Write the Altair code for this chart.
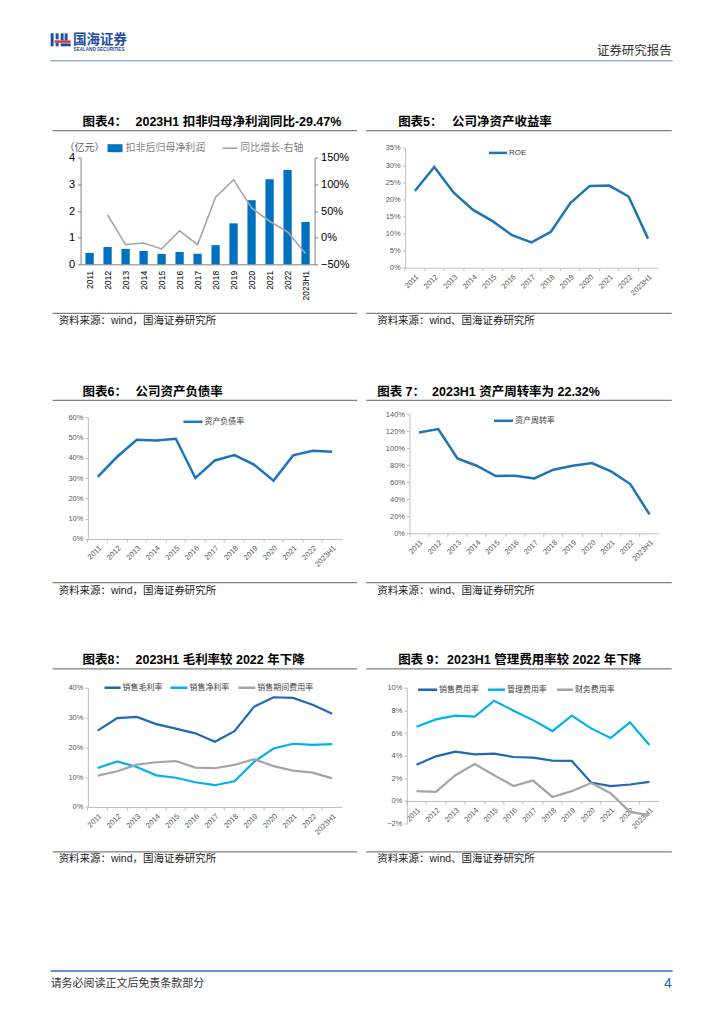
import altair as alt
import pandas as pd

years = ["2011", "2012", "2013", "2014", "2015", "2016", "2017",
         "2018", "2019", "2020", "2021", "2022", "2023H1"]

# 图表4
profit = [0.43, 0.65, 0.58, 0.50, 0.39, 0.46, 0.40, 0.72, 1.54, 2.41, 3.20, 3.54, 1.59]
yoy = [None, 0.43, -0.13, -0.10, -0.21, 0.13, -0.13, 0.76, 1.09, 0.56, 0.31, 0.11, -0.2947]
# 图表5
roe = [0.224, 0.294, 0.219, 0.169, 0.136, 0.095, 0.074, 0.105, 0.189, 0.239, 0.240, 0.208, 0.085]
# 图表6
debt = [0.307, 0.406, 0.490, 0.487, 0.495, 0.301, 0.388, 0.414, 0.367, 0.288, 0.413, 0.436, 0.431]
# 图表7
turnover = [1.184, 1.224, 0.879, 0.794, 0.673, 0.676, 0.645, 0.747, 0.794, 0.825, 0.727, 0.579, 0.2232]
# 图表8
gross = [0.256, 0.298, 0.302, 0.278, 0.263, 0.247, 0.219, 0.254, 0.336, 0.368, 0.366, 0.343, 0.313]
net = [0.131, 0.153, 0.134, 0.106, 0.098, 0.083, 0.073, 0.086, 0.151, 0.196, 0.212, 0.208, 0.211]
period = [0.105, 0.120, 0.142, 0.150, 0.154, 0.132, 0.130, 0.141, 0.160, 0.137, 0.122, 0.115, 0.096]
# 图表9
sales_exp = [0.0320, 0.0394, 0.0435, 0.0412, 0.0418, 0.0388, 0.0382, 0.0356, 0.0353, 0.0162, 0.0130, 0.0145, 0.0168]
admin_exp = [0.0656, 0.0720, 0.0753, 0.0744, 0.0885, 0.0797, 0.0714, 0.0617, 0.0753, 0.0641, 0.0556, 0.0694, 0.0494]
fin_exp = [0.0086, 0.0080, 0.0227, 0.0326, 0.0227, 0.0132, 0.0180, 0.0035, 0.0086, 0.0159, 0.0068, -0.0097, -0.0126]

FONT = "Liberation Sans, Noto Sans CJK SC"
FONT_CN = "Noto Sans CJK SC"
BLUE = "#1C75BC"
DBLUE = "#1F6AB5"
CYAN = "#00B0F0"
GRAY = "#A5A5A5"
AX = "#BFBFBF"

W, H = 227, 100
COLS = [87.3, 409.3]
ROWS = [163.3, 431.3, 699.3]
ONE = pd.DataFrame({"k": [0]})


def text(o, x, y, s, size=10, weight="normal", color="#000000", align="left",
         font=FONT, baseline="middle"):
    return alt.Chart(ONE).mark_text(
        text=s, fontSize=size, fontWeight=weight, color=color, align=align,
        baseline=baseline, font=font
    ).encode(x=alt.value(x - o[0]), y=alt.value(y - o[1]))


def hline(o, x1, x2, y, color="#7F7F7F", width=1.2):
    return alt.Chart(ONE).mark_rule(color=color, strokeWidth=width).encode(
        x=alt.value(x1 - o[0]), x2=alt.value(x2 - o[0]), y=alt.value(y - o[1]))


def box(o, x1, y1, x2, y2, color):
    return alt.Chart(ONE).mark_rect(color=color).encode(
        x=alt.value(x1 - o[0]), x2=alt.value(x2 - o[0]),
        y=alt.value(y1 - o[1]), y2=alt.value(y2 - o[1]))


def frame(o, col, ty, ly, sly, sy, tag, tag_x, main, main_x):
    lx1, lx2 = (52, 357) if col == 0 else (366, 672)
    sx = 58 if col == 0 else 377
    sep = "，" if col == 0 else "、"
    return [
        text(o, tag_x, ty, tag, 12.5, "bold"),
        text(o, main_x, ty, main, 12.5, "bold"),
        hline(o, lx1, lx2, ly),
        hline(o, lx1, lx2, sly),
        text(o, sx, sy, "资料来源：wind" + sep + "国海证券研究所", 10.5, color="#222222"),
    ]


def legend_line(o, x1, x2, y, color, label, width=2.5, size=8, tcolor="#404040"):
    return [hline(o, x1, x2, y, color, width), text(o, x2 + 2, y, label, size, color=tcolor)]


def x_band(rng, off):
    return alt.X("year:N", sort=years,
                 scale=alt.Scale(type="band", domain=years, range=rng,
                                 paddingInner=0, paddingOuter=0),
                 axis=alt.Axis(title=None, labelAngle=-45, labelFontSize=7.5,
                               labelColor="#595959", labelFont=FONT,
                               domainColor=AX, tickColor=AX, tickSize=3,
                               bandPosition=0, offset=off, labelPadding=2))


def y_pct(field, dom, rng, vals, off):
    return alt.Y(field + ":Q",
                 scale=alt.Scale(domain=dom, range=rng, nice=False, zero=False),
                 axis=alt.Axis(title=None, format=".0%", values=vals,
                               labelFontSize=7.5, labelColor="#595959",
                               labelFont=FONT, domainColor=AX, tickColor=AX,
                               tickSize=3, grid=False, offset=off, labelPadding=2))


def line(df, field, color, xenc, yenc, width=2.5):
    return alt.Chart(df).mark_line(color=color, strokeWidth=width).encode(
        x=xenc, y=yenc)


# ---------------- 图表4 ----------------
o4 = (COLS[0], ROWS[0])
df4 = pd.DataFrame({"year": years, "profit": profit, "yoy": yoy})
x4 = alt.X("year:N", sort=years,
           scale=alt.Scale(type="band", domain=years, range=[-7.3, W],
                           paddingInner=0.54, paddingOuter=0.27),
           axis=alt.Axis(title=None, labelAngle=-90, labelFontSize=8.5,
                         labelColor="#000000", labelFont=FONT,
                         domainColor="#808080", ticks=False, offset=0,
                         labelPadding=6))
bars4 = alt.Chart(df4).mark_bar(color="#0070C0").encode(
    x=x4,
    y=alt.Y("profit:Q",
            scale=alt.Scale(domain=[0, 4], range=[100, -6.6], nice=False),
            axis=alt.Axis(title=None, values=[0, 1, 2, 3, 4], labelFontSize=11,
                          labelColor="#000000", labelFont=FONT,
                          domainColor="#808080", tickColor="#808080",
                          tickSize=3, grid=False, offset=7.3, labelPadding=3)))
line4 = alt.Chart(df4.dropna()).mark_line(color=GRAY, strokeWidth=1.6).encode(
    x=x4,
    y=alt.Y("yoy:Q",
            scale=alt.Scale(domain=[-0.5, 1.5], range=[100, -6.6], nice=False, zero=False),
            axis=alt.Axis(title=None, orient="right", format=".0%",
                          values=[-0.5, 0, 0.5, 1, 1.5], labelFontSize=11,
                          labelColor="#000000", labelFont=FONT,
                          domainColor="#808080", tickColor="#808080",
                          tickSize=3, grid=False, labelPadding=3)))
deco4 = frame(o4, 0, 120.7, 129.5, 312.5, 320.5, "图表4：", 82,
              "2023H1 扣非归母净利润同比-29.47%", 135)
deco4 += [
    text(o4, 64, 147, "（亿元）", 10, color="#595959"),
    box(o4, 107, 143, 122, 151, "#0070C0"),
    text(o4, 125, 147, "扣非后归母净利润", 10, color="#7F7F7F"),
    hline(o4, 222, 237, 147, GRAY, 1.6),
    text(o4, 240, 147, "同比增长-右轴", 10, color="#7F7F7F"),
    # header
    hline(o4, 8, 716, 8, "#FFFFFF", 0.5),
    box(o4, 50, 32, 53, 45, "#1D4EA0"),
    box(o4, 55, 32, 58, 38, "#1D4EA0"),
    box(o4, 55, 41.5, 58, 45, "#1D4EA0"),
    box(o4, 60, 32, 63, 39, "#1D4EA0"),
    box(o4, 64, 32, 67, 39, "#1D4EA0"),
    box(o4, 54, 39, 70, 41.5, "#E03030"),
    box(o4, 60, 42, 70, 45, "#1D4EA0"),
    text(o4, 72.5, 38.5, "国海证券", 13.5, "bold", "#1D4EA0"),
    text(o4, 73, 48.5, "SEALAND SECURITIES", 4.6, "bold", "#1D4EA0"),
    text(o4, 672, 50, "证券研究报告", 12.5, color="#333333", align="right"),
    hline(o4, 50, 673, 59.5, "#8DB3E2", 1.5),
]
c4 = alt.layer(bars4, line4, *deco4).resolve_scale(y="independent").properties(width=W, height=H)

# ---------------- 图表5 ----------------
o5 = (COLS[1], ROWS[0])
df5 = pd.DataFrame({"year": years, "roe": roe})
c5 = alt.layer(
    line(df5, "roe", BLUE, x_band([-4.3, 248.7], 3.4),
         y_pct("roe", [0, 0.35], [103.4, -16.6],
               [0, 0.05, 0.1, 0.15, 0.2, 0.25, 0.3, 0.35], 4.3)),
    *frame(o5, 1, 120.7, 129.5, 312.5, 320.5, "图表5：", 398, "公司净资产收益率", 452),
    *legend_line(o5, 489, 507, 151.7, BLUE, "ROE"),
).properties(width=W, height=H)

# ---------------- 图表6 ----------------
o6 = (COLS[0], ROWS[1])
df6 = pd.DataFrame({"year": years, "debt": debt})
c6 = alt.layer(
    line(df6, "debt", BLUE, x_band([0, 254.4], 7),
         y_pct("debt", [0, 0.6], [107, -14.6],
               [0, 0.1, 0.2, 0.3, 0.4, 0.5, 0.6], 0)),
    *frame(o6, 0, 390.7, 399.5, 582, 590, "图表6：", 82, "公司资产负债率", 135),
    *legend_line(o6, 183, 202, 421, BLUE, "资产负债率"),
).properties(width=W, height=H)

# ---------------- 图表7 ----------------
o7 = (COLS[1], ROWS[1])
df7 = pd.DataFrame({"year": years, "turn": turnover})
c7 = alt.layer(
    line(df7, "turn", BLUE, x_band([0, 250], 1.4),
         y_pct("turn", [0, 1.4], [101.4, -18],
               [0, 0.2, 0.4, 0.6, 0.8, 1.0, 1.2, 1.4], 0)),
    *frame(o7, 1, 390.7, 399.5, 582, 590, "图表 7：", 377, "2023H1 资产周转率为 22.32%", 432),
    *legend_line(o7, 494, 513, 420, BLUE, "资产周转率"),
).properties(width=W, height=H)

# ---------------- 图表8 ----------------
o8 = (COLS[0], ROWS[2])
df8 = pd.DataFrame({"year": years, "gross": gross, "net": net, "period": period})
x8 = x_band([0, 254.4], 7.4)
vals8 = [0, 0.1, 0.2, 0.3, 0.4]
c8 = alt.layer(
    line(df8, "gross", DBLUE, x8, y_pct("gross", [0, 0.4], [107.4, -12], vals8, 0), 2.2),
    line(df8, "net", CYAN, x8, y_pct("net", [0, 0.4], [107.4, -12], vals8, 0), 2.2),
    line(df8, "period", GRAY, x8, y_pct("period", [0, 0.4], [107.4, -12], vals8, 0), 2.2),
    *frame(o8, 0, 660, 668.5, 851.7, 858.5, "图表8：", 82, "2023H1 毛利率较 2022 年下降", 135),
    *legend_line(o8, 104, 120, 687.3, DBLUE, "销售毛利率"),
    *legend_line(o8, 170, 187, 687.3, CYAN, "销售净利率"),
    *legend_line(o8, 238, 255, 687.3, GRAY, "销售期间费用率"),
    # footer
    hline(o8, 50, 673, 971, "#2E6FD8", 1.5),
    text(o8, 50, 983.5, "请务必阅读正文后免责条款部分", 11, color="#333333"),
    text(o8, 672, 983.5, "4", 14, color="#1F5FD0", align="right"),
).properties(width=W, height=H)

# ---------------- 图表9 ----------------
o9 = (COLS[1], ROWS[2])
df9 = pd.DataFrame({"year": years, "sales": sales_exp, "admin": admin_exp, "fin": fin_exp})
x9 = x_band([-2.6, 250], 1.4)
vals9 = [-0.02, 0, 0.02, 0.04, 0.06, 0.08, 0.1]
c9 = alt.layer(
    line(df9, "sales", DBLUE, x9, y_pct("sales", [-0.02, 0.1], [124, -12], vals9, 2.6), 2.2),
    line(df9, "admin", CYAN, x9, y_pct("admin", [-0.02, 0.1], [124, -12], vals9, 2.6), 2.2),
    line(df9, "fin", GRAY, x9, y_pct("fin", [-0.02, 0.1], [124, -12], vals9, 2.6), 2.2),
    *frame(o9, 1, 660, 668.5, 851.7, 858.5, "图表 9：", 398, "2023H1 管理费用率较 2022 年下降", 447),
    *legend_line(o9, 418, 437, 689.3, DBLUE, "销售费用率"),
    *legend_line(o9, 488, 505, 689.3, CYAN, "管理费用率"),
    *legend_line(o9, 557, 573, 689.3, GRAY, "财务费用率"),
).properties(width=W, height=H)

chart = alt.concat(
    c4, c5, c6, c7, c8, c9, columns=2,
    spacing={"row": 168, "column": 95}, bounds="flush", align="all"
).properties(padding=0).configure_view(stroke=None)

chart.save("out.html", embed_options={"renderer": "svg", "actions": False})
